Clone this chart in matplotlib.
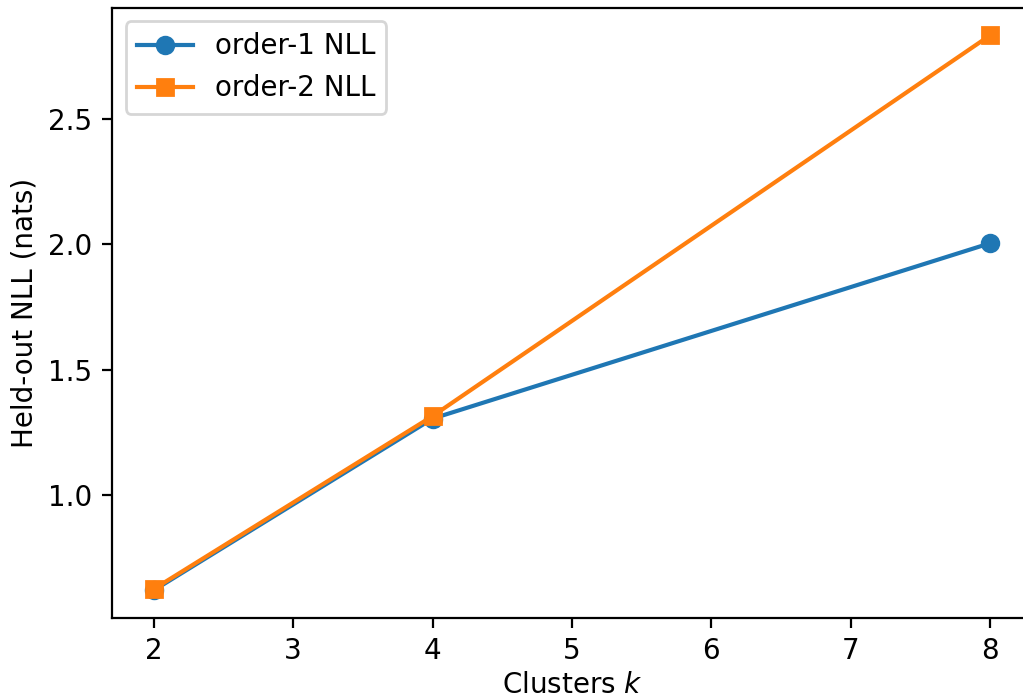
import matplotlib
matplotlib.use("Agg")
import matplotlib.pyplot as plt

# cluster counts and held-out NLL
clusters = [2, 4, 8]
nll_order1 = [0.62, 1.305, 2.005]
nll_order2 = [0.625, 1.315, 2.835]

W, H, DPI = 1023, 696, 200
fig = plt.figure(figsize=(W / DPI, H / DPI), dpi=DPI)

# axes run past the right edge like the cropped original
left, right, top, bottom = 112, 1032, 7.5, 618
ax = fig.add_axes([left / W, (H - bottom) / H, (right - left) / W, (bottom - top) / H])

ax.plot(clusters, nll_order1, marker='o', label='order-1 NLL')
ax.plot(clusters, nll_order2, marker='s', label='order-2 NLL')

ax.set_xlabel('Clusters $k$', labelpad=2)
ax.set_ylabel('Held-out NLL (nats)', labelpad=3.5)
ax.legend(loc='upper left')

fig.savefig('out.png', dpi=DPI)
